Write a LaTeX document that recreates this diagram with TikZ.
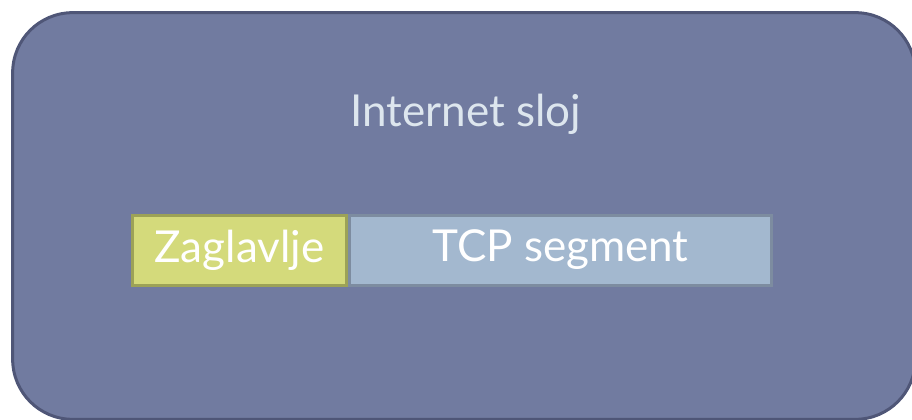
\documentclass[tikz,border=0pt]{standalone}
\usepackage{fontspec}
\setmainfont{Lato}
\usetikzlibrary{positioning}
\definecolor{layerfill}{HTML}{717BA0}
\definecolor{layerdraw}{HTML}{4F5677}
\definecolor{titletext}{HTML}{DDE6EE}
\definecolor{hdrfill}{HTML}{D4DA7B}
\definecolor{hdrdraw}{HTML}{9CA257}
\definecolor{segfill}{HTML}{A3B8CF}
\definecolor{segdraw}{HTML}{7D8CA0}
\begin{document}
\begin{tikzpicture}%
	[x=0.75pt, y=-0.75pt,
	layer/.style = {rectangle, rounded corners=45pt, draw=layerdraw, fill=layerfill, line width=2.25pt, minimum width=677pt, minimum height=305pt},
	field/.style = {rectangle, line width=2.25pt, minimum height=52.5pt, inner sep=0pt, text=white, font=\fontsize{33}{36}\selectfont},
	hdr/.style = {field, draw=hdrdraw, fill=hdrfill, minimum width=160pt},
	seg/.style = {field, draw=segdraw, fill=segfill, minimum width=317pt}]
	\useasboundingbox (0,0) rectangle (912,420);
	\node[layer] (sloj) at (464,216) {};
	\node[text=titletext, font=\fontsize{33}{36}\selectfont] (title) at (466,114) {Internet sloj};
	\node[hdr] (zag) at (239.5,250) {Zaglavlje};
	\node[seg] (tcp) [right=0pt of zag] {TCP segment};
	\end{tikzpicture}
\end{document}
